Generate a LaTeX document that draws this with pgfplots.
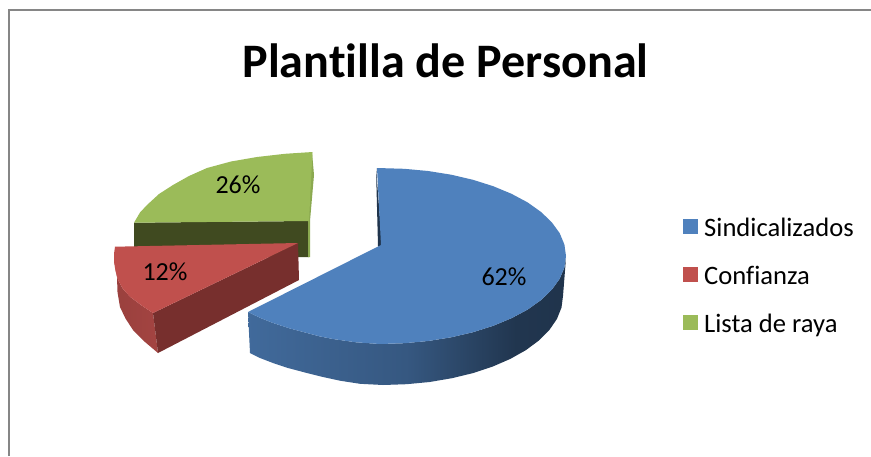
\documentclass[border=0pt]{standalone}
\usepackage{pgfplots}
\pgfplotsset{compat=1.18}
\usepackage{fontspec}
\setmainfont[Ligatures=NoCommon]{Carlito}
\definecolor{azul}{HTML}{4F81BD}
\definecolor{rojo}{HTML}{C0504D}
\definecolor{verde}{HTML}{9BBB59}
\definecolor{rojofrente}{HTML}{772F2D}
\definecolor{verdefrente}{HTML}{404A20}
\definecolor{verdelado}{HTML}{8BA950}
\definecolor{marco}{HTML}{868686}
\pgfdeclarehorizontalshading{azulpared}{100bp}{
  color(0bp)=(azul!82!black);
  color(25bp)=(azul!82!black);
  color(50bp)=(azul!68!black);
  color(67bp)=(azul!42!black);
  color(75bp)=(azul!40!black);
  color(100bp)=(azul!40!black)}
\pgfdeclarehorizontalshading{rojopared}{100bp}{
  color(0bp)=(rojo!80!black);
  color(25bp)=(rojo!80!black);
  color(75bp)=(rojo!85!black);
  color(100bp)=(rojo!85!black)}
\begin{document}
\begin{tikzpicture}
\begin{axis}[
    scale only axis,
    width=871pt, height=456pt,
    xmin=0, xmax=871, ymin=0, ymax=456,
    y dir=reverse,
    hide axis,
    legend style={draw=none, fill=none, at={(axis cs:683,216)}, anchor=north west,
        font=\fontsize{26.6}{30}\selectfont, row sep=22pt, inner sep=0pt,
        nodes={text height=20pt, text depth=6pt, inner sep=0pt, outer sep=0pt},
        /tikz/every odd column/.style={column sep=6pt}},
    legend cell align=left,
    legend image code/.code={\fill[#1] (0cm,-5pt) rectangle (15pt,10pt);},
]
% fondo y marco
\addplot[forget plot, draw=none, fill=white] coordinates {(0,0) (871,0) (871,456) (0,456)} --cycle;
\addplot[forget plot, draw=marco, line width=2pt] coordinates {(9,456) (9,10) (871,10)};

% Lista de raya (26%)
\addplot[forget plot, draw=none, fill=verdefrente] coordinates {(134,222.7) (309,221) (309,257) (134,257)} --cycle;
\addplot[forget plot, draw=none, fill=verdelado] coordinates {(312,152) (314,175) (310,221) (310,257) (308,257) (308,221)} --cycle;
\addplot[forget plot, draw=none, fill=verde] coordinates {
    (134,222.7) (140,212.5) (147,205) (159,194) (173,185) (189,176) (207,168) (231,161.5) (257,157) (285,153.8) (312.5,152) (309,221)} --cycle;

% Confianza (12%)
\addplot[forget plot, draw=none, shading=rojopared] coordinates {
    (114.5,262) (118,280) (123,289) (130,296.7) (141,305) (153,313) (158,353) (145,342) (133,330) (125.5,318.5) (120,307) (117.5,292) (117,277)} --cycle;
\addplot[forget plot, draw=none, fill=rojofrente] coordinates {(153,313) (298,243) (299,280) (158,353)} --cycle;
\addplot[forget plot, draw=none, fill=rojo] coordinates {
    (115,246.7) (114,254) (114,261.7) (115.5,271) (118,280) (123,289) (130,296.7) (141,305) (153,313) (298,243)} --cycle;

% Sindicalizados (62%)
\addplot[forget plot, draw=none, fill=azul!40!black] coordinates {(376,168) (378,246) (382,250) (382,245)} --cycle;
\addplot[forget plot, draw=none, shading=azulpared] coordinates {
    (248,312) (260,317.8) (273,323) (290,328.5) (307,333) (319,336.2) (333,339) (356,342.3) (380,344)
    (404.3,343.2) (428.1,341) (451.2,337.3) (473,332.2) (493.2,325.8) (511.5,318.2) (527.6,309.6) (541.1,300)
    (551.8,289.7) (559.7,278.8) (564.4,267.5) (566,258)
    (563,296) (561.5,307.6) (556.9,319) (549.3,330.1) (538.9,340.5) (525.8,350.2) (510.3,358.9) (492.6,366.6)
    (473,373.1) (451.9,378.2) (429.6,382) (406.5,384.2) (383,385) (360,383.8) (340,380.7) (323,377) (305,372.5)
    (288,368) (273,363) (260,358) (250,353)} --cycle;
\addplot[forget plot, draw=none, fill=azul] coordinates {
    (377,168) (404.3,168.8) (428.1,171) (451.2,174.7) (473,179.8) (493.2,186.2) (511.5,193.8) (527.6,202.4)
    (541.1,212) (551.8,222.3) (559.7,233.2) (564.4,244.5) (566,256) (564.4,267.5) (559.7,278.8) (551.8,289.7)
    (541.1,300) (527.6,309.6) (511.5,318.2) (493.2,325.8) (473,332.2) (451.2,337.3) (428.1,341) (404.3,343.2)
    (380,344) (356,342.3) (333,339) (319,336.2) (307,333) (290,328.5) (273,323) (260,317.8) (248,312) (381,245)} --cycle;

\addlegendimage{draw=none, fill=azul}
\addlegendentry{Sindicalizados}
\addlegendimage{draw=none, fill=rojo}
\addlegendentry{Confianza}
\addlegendimage{draw=none, fill=verde}
\addlegendentry{Lista de raya}

\node[font=\fontsize{48.1}{56}\selectfont\bfseries] at (axis cs:445.5,61) {Plantilla de Personal};
\node[font=\fontsize{26}{30}\selectfont] at (axis cs:504,277) {62\%};
\node[font=\fontsize{26}{30}\selectfont] at (axis cs:165,272) {12\%};
\node[font=\fontsize{26}{30}\selectfont] at (axis cs:238,185) {26\%};
\end{axis}
\end{tikzpicture}
\end{document}
